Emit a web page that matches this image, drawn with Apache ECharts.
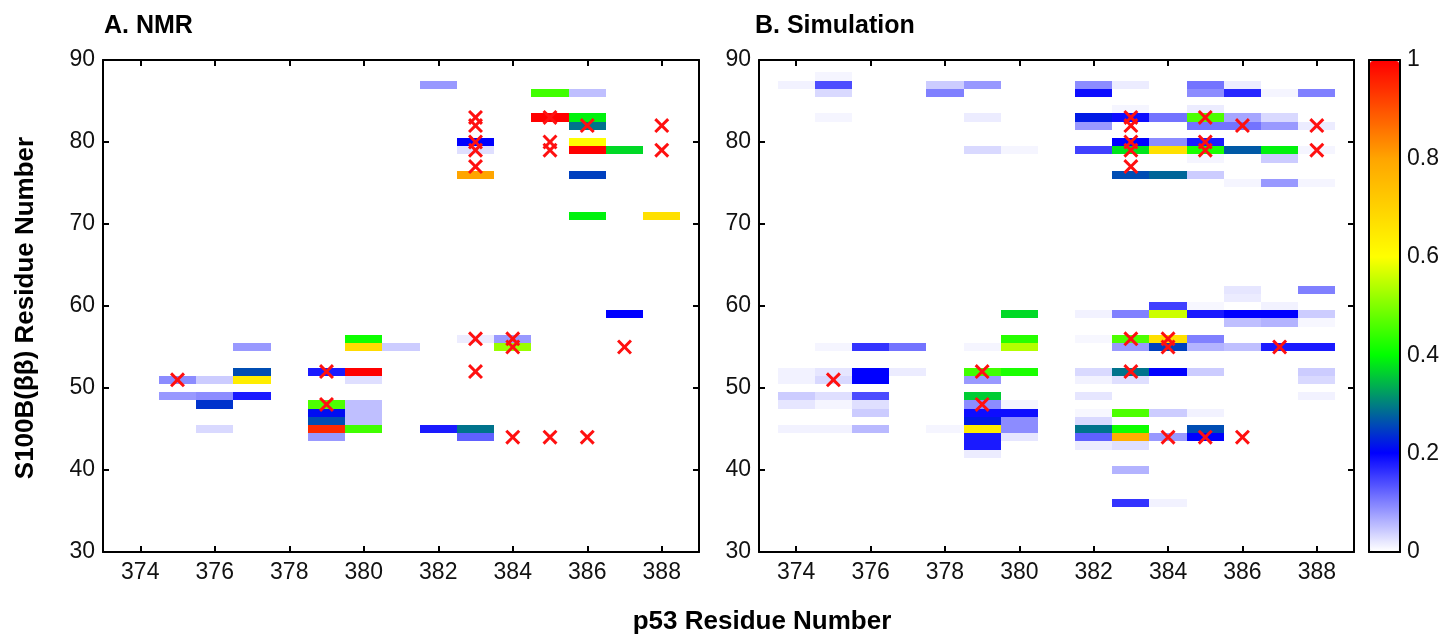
<!DOCTYPE html>
<html>
<head>
<meta charset="utf-8">
<script src="https://cdn.jsdelivr.net/npm/echarts@6/dist/echarts.min.js"></script>
<style>
html,body{margin:0;padding:0;background:#fff;}
#chart{width:1446px;height:635px;}
</style>
</head>
<body>
<div id="chart"></div>
<script>
// ---- data ----
var xTicks = [374, 376, 378, 380, 382, 384, 386, 388];
var yTicks = [30, 40, 50, 60, 70, 80, 90];
var colorTicks = [0, 0.2, 0.4, 0.6, 0.8, 1];
var panelTitles = ['A. NMR', 'B. Simulation'];
var xName = 'p53 Residue Number';
var yName = 'S100B(\u03b2\u03b2) Residue Number';

// [p53 residue, S100B residue, contact fraction]
var nmrCells = [
  [375,51,0.09],[375,49,0.08],
  [376,51,0.04],[376,49,0.09],[376,48,0.24],[376,45,0.03],
  [377,55,0.08],[377,52,0.26],[377,51,0.64],[377,49,0.18],
  [379,52,0.18],[379,48,0.46],[379,47,0.21],[379,46,0.26],[379,45,0.95],[379,44,0.08],
  [380,56,0.41],[380,55,0.68],[380,52,1.0],[380,51,0.025],[380,48,0.05],[380,47,0.05],[380,46,0.05],[380,45,0.45],
  [381,55,0.04],
  [382,87,0.08],[382,45,0.18],
  [383,80,0.2],[383,79,0.025],[383,76,0.8],[383,56,0.015],[383,45,0.29],[383,44,0.125],
  [384,56,0.08],[384,55,0.52],
  [385,86,0.45],[385,83,1.0],
  [386,86,0.05],[386,83,0.39],[386,82,0.29],[386,80,0.6],[386,79,1.0],[386,76,0.25],[386,71,0.39],
  [387,79,0.37],[387,59,0.2],
  [388,71,0.67]
];

var simCells = [
  [374,87,0.01],[374,52,0.01],[374,51,0.01],[374,49,0.04],[374,48,0.02],[374,45,0.01],
  [375,88,0.008],[375,87,0.14],[375,86,0.03],[375,83,0.008],[375,55,0.008],[375,52,0.02],[375,51,0.03],[375,49,0.025],[375,48,0.008],[375,45,0.01],
  [376,55,0.16],[376,52,0.2],[376,51,0.2],[376,49,0.14],[376,48,0.025],[376,47,0.04],[376,45,0.055],
  [377,55,0.11],[377,52,0.015],
  [378,87,0.04],[378,86,0.1],[378,45,0.008],
  [379,87,0.08],[379,83,0.015],[379,79,0.03],[379,55,0.008],[379,52,0.45],[379,51,0.08],[379,49,0.36],[379,48,0.09],[379,47,0.19],[379,46,0.22],[379,45,0.64],[379,44,0.18],[379,43,0.18],[379,42,0.015],
  [380,79,0.008],[380,59,0.37],[380,56,0.43],[380,55,0.54],[380,52,0.42],[380,48,0.008],[380,47,0.19],[380,46,0.09],[380,45,0.09],[380,44,0.02],
  [382,87,0.09],[382,86,0.19],[382,83,0.22],[382,82,0.08],[382,79,0.15],[382,59,0.01],[382,56,0.006],[382,52,0.03],[382,51,0.01],[382,49,0.02],[382,47,0.006],[382,46,0.03],[382,45,0.29],[382,44,0.125],[382,43,0.015],
  [383,87,0.015],[383,84,0.008],[383,83,0.19],[383,80,0.2],[383,79,0.38],[383,76,0.26],[383,59,0.1],[383,56,0.46],[383,55,0.08],[383,52,0.29],[383,51,0.025],[383,47,0.46],[383,45,0.41],[383,44,0.78],[383,43,0.025],[383,40,0.06],[383,36,0.16],
  [384,83,0.11],[384,80,0.09],[384,79,0.67],[384,76,0.28],[384,60,0.15],[384,59,0.56],[384,56,0.67],[384,55,0.25],[384,52,0.2],[384,47,0.04],[384,44,0.08],[384,36,0.01],
  [385,87,0.11],[385,86,0.09],[385,84,0.015],[385,83,0.46],[385,82,0.11],[385,80,0.18],[385,79,0.42],[385,78,0.008],[385,76,0.04],[385,60,0.006],[385,59,0.18],[385,56,0.1],[385,55,0.06],[385,52,0.04],[385,47,0.01],[385,45,0.26],[385,44,0.2],
  [386,87,0.015],[386,86,0.17],[386,83,0.07],[386,82,0.11],[386,79,0.27],[386,75,0.008],[386,62,0.02],[386,61,0.015],[386,59,0.2],[386,58,0.05],[386,55,0.05],
  [387,86,0.008],[387,83,0.03],[387,82,0.08],[387,79,0.39],[387,78,0.04],[387,75,0.08],[387,60,0.01],[387,59,0.2],[387,58,0.06],[387,55,0.18],
  [388,86,0.1],[388,82,0.015],[388,79,0.008],[388,75,0.008],[388,62,0.1],[388,59,0.04],[388,58,0.006],[388,55,0.18],[388,52,0.04],[388,51,0.03],[388,49,0.01]
];

// NMR-observed contacts (red crosses), same in both panels
var nmrContacts = [
  [375,51],[379,52],[379,48],
  [383,83],[383,82],[383,80],[383,79],[383,77],[383,56],[383,52],
  [384,56],[384,55],[384,44],
  [385,83],[385,80],[385,79],[385,44],
  [386,82],[386,44],[387,55],[388,82],[388,79]
];

var colorStops = ['#ffffff', '#0000ff', '#00ff00', '#ffff00', '#ffa500', '#ff0000'];

// ---- chart ----
var FONT = 'Liberation Sans, Arial, Helvetica, sans-serif';
var chart = echarts.init(document.getElementById('chart'), null, {renderer: 'canvas'});

var grids = [
  {left: 103, top: 60, width: 596, height: 492, show: false},
  {left: 759, top: 60, width: 595, height: 492, show: false},
  {left: 1369, top: 60, width: 31, height: 492, show: false}
];

var lineStyle = {color: '#000', width: 2};
function xAx(g, pos, labels) {
  return {
    type: 'value', gridIndex: g, position: pos, min: 373, max: 389,
    axisLine: {show: true, onZero: false, lineStyle: lineStyle},
    axisTick: {show: true, inside: true, length: 6, lineStyle: lineStyle, customValues: xTicks},
    axisLabel: {show: labels, customValues: xTicks, fontSize: 23, color: '#111', margin: 9, fontFamily: FONT},
    splitLine: {show: false}
  };
}
function yAx(g, pos, labels) {
  return {
    type: 'value', gridIndex: g, position: pos, min: 30, max: 90, interval: 10,
    axisLine: {show: true, onZero: false, lineStyle: lineStyle},
    axisTick: {show: true, inside: true, length: 6, lineStyle: lineStyle},
    axisLabel: {show: labels, fontSize: 23, color: '#111', margin: 8, fontFamily: FONT},
    splitLine: {show: false}
  };
}

var xAxes = [xAx(0, 'bottom', true), xAx(0, 'top', false), xAx(1, 'bottom', true), xAx(1, 'top', false),
  {type: 'value', gridIndex: 2, position: 'bottom', min: 0, max: 1,
   axisLine: {show: true, onZero: false, lineStyle: lineStyle}, axisTick: {show: false}, axisLabel: {show: false}, splitLine: {show: false}},
  {type: 'value', gridIndex: 2, position: 'top', min: 0, max: 1,
   axisLine: {show: true, onZero: false, lineStyle: lineStyle}, axisTick: {show: false}, axisLabel: {show: false}, splitLine: {show: false}}
];
var yAxes = [yAx(0, 'left', true), yAx(0, 'right', false), yAx(1, 'left', true), yAx(1, 'right', false),
  {type: 'value', gridIndex: 2, position: 'right', min: 0, max: 1, interval: 0.2,
   axisLine: {show: true, onZero: false, lineStyle: lineStyle},
   axisTick: {show: true, inside: true, length: 6, lineStyle: lineStyle},
   axisLabel: {show: true, fontSize: 23, color: '#111', margin: 7, fontFamily: FONT},
   splitLine: {show: false}},
  {type: 'value', gridIndex: 2, position: 'left', min: 0, max: 1, interval: 0.2,
   axisLine: {show: true, onZero: false, lineStyle: lineStyle},
   axisTick: {show: true, inside: true, length: 6, lineStyle: lineStyle},
   axisLabel: {show: false}, splitLine: {show: false}}
];

function renderCell(params, api) {
  var x = api.value(0), y = api.value(1);
  var p0 = api.coord([x - 0.5, y + 0.5]);
  var p1 = api.coord([x + 0.5, y - 0.5]);
  var x0 = Math.round(p0[0]), y0 = Math.round(p0[1]);
  var x1 = Math.round(p1[0]), y1 = Math.round(p1[1]);
  return {
    type: 'rect',
    shape: {x: x0, y: y0, width: x1 - x0, height: y1 - y0},
    style: {fill: api.visual('color')}
  };
}

var crossPath = 'path://M0,14 L14,0 L50,36 L86,0 L100,14 L64,50 L100,86 L86,100 L50,64 L14,100 L0,86 L36,50 Z';

function cellSeries(data, idx) {
  return {
    type: 'custom', xAxisIndex: idx * 2, yAxisIndex: idx * 2,
    dimensions: ['x', 'y', 'v'], encode: {x: 0, y: 1},
    renderItem: renderCell, data: data, z: 2, silent: true
  };
}
function crossSeries(idx) {
  return {
    type: 'scatter', xAxisIndex: idx * 2, yAxisIndex: idx * 2,
    data: nmrContacts, symbol: crossPath, symbolSize: 15,
    itemStyle: {color: '#ff1010', opacity: 1}, z: 5, silent: true
  };
}

var option = {
  animation: false,
  backgroundColor: '#fff',
  textStyle: {fontFamily: FONT},
  grid: grids,
  xAxis: xAxes,
  yAxis: yAxes,
  visualMap: {
    type: 'continuous', min: 0, max: 1, dimension: 2, seriesIndex: [0, 2],
    inRange: {color: colorStops},
    show: true, orient: 'vertical', calculable: false, realtime: false,
    left: 1370, top: 61, itemWidth: 29, itemHeight: 490, padding: 0,
    text: null, hoverLink: false
  },
  series: [cellSeries(nmrCells, 0), crossSeries(0), cellSeries(simCells, 1), crossSeries(1)],
  graphic: [
    {type: 'text', x: 104, y: 26, style: {text: panelTitles[0], font: 'bold 25px ' + FONT, fill: '#000', align: 'left', verticalAlign: 'middle', textAlign: 'left', textVerticalAlign: 'middle'}},
    {type: 'text', x: 755, y: 26, style: {text: panelTitles[1], font: 'bold 25px ' + FONT, fill: '#000', align: 'left', verticalAlign: 'middle', textAlign: 'left', textVerticalAlign: 'middle'}},
    {type: 'text', x: 762, y: 622, style: {text: xName, font: 'bold 26px ' + FONT, fill: '#000', align: 'center', verticalAlign: 'middle', textAlign: 'center', textVerticalAlign: 'middle'}},
    {type: 'text', x: 26, y: 308, rotation: Math.PI / 2, style: {text: yName, font: 'bold 26px ' + FONT, fill: '#000', align: 'center', verticalAlign: 'middle', textAlign: 'center', textVerticalAlign: 'middle'}}
  ]
};
chart.setOption(option);
</script>
</body>
</html>
